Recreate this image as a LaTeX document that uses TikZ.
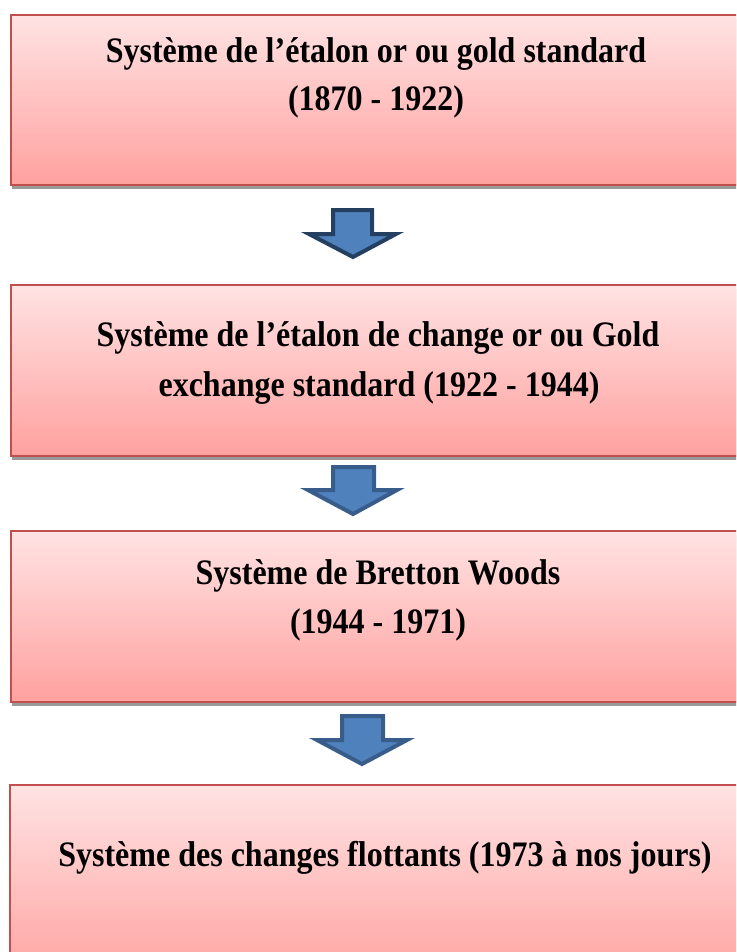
\documentclass[tikz,border=0pt]{standalone}
\usepackage{fontspec}
\setmainfont{Liberation Serif}
\usetikzlibrary{calc}
\definecolor{boxtop}{HTML}{FFE3E3}
\definecolor{boxbot}{HTML}{FFA19F}
\definecolor{boxline}{HTML}{C0504D}
\definecolor{arrfill}{HTML}{4F81BD}
\definecolor{arrlineA}{HTML}{243F60}
\definecolor{arrlineB}{HTML}{385D8A}
\definecolor{shadowgray}{HTML}{9A9A9A}
\newcommand{\tallbold}[1]{\scalebox{1}[1.12]{#1}}
\tikzset{
  boxshape/.style={draw=boxline, line width=2pt, top color=boxtop, bottom color=boxbot, rectangle, inner sep=0pt},
  boxtext/.style={font=\fontsize{32}{38}\selectfont\bfseries, inner sep=0pt, anchor=base},
  blockarrow/.style={fill=arrfill, line width=4pt, line join=miter},
}
\begin{document}
\begin{tikzpicture}[x=1pt,y=-1pt]
\useasboundingbox (0,0) rectangle (736,952);
\begin{scope}
\clip (0,0) rectangle (736,952);
% shadows
\fill[shadowgray] (12,19) rectangle (748,189);
\fill[shadowgray] (12,289) rectangle (748,460);
\fill[shadowgray] (12,535) rectangle (748,706);
% boxes
\node[boxshape, minimum width=734pt, minimum height=170pt] (b1) at (378,100) {};
\node[boxshape, minimum width=734pt, minimum height=171pt] (b2) at (378,370.5) {};
\node[boxshape, minimum width=734pt, minimum height=171pt] (b3) at (378,616.5) {};
\node[boxshape, minimum width=735pt, minimum height=200pt] (b4) at (377.5,885) {};
\end{scope}
% texts
\node[boxtext] (t1a) at (376,63) {\tallbold{Système de l’étalon or ou gold standard}};
\node[boxtext] (t1b) at (376,111) {\tallbold{(1870 - 1922)}};
\node[boxtext] (t2a) at (378,346) {\tallbold{Système de l’étalon de change or ou Gold}};
\node[boxtext] (t2b) at (379,396) {\tallbold{exchange standard (1922 - 1944)}};
\node[boxtext] (t3a) at (378,584) {\tallbold{Système de Bretton Woods}};
\node[boxtext] (t3b) at (378,633) {\tallbold{(1944 - 1971)}};
\node[boxtext] (t4) at (385,866) {\tallbold{Système des changes flottants (1973 à nos jours)}};
% arrows
\draw[blockarrow, draw=arrlineA] (333,210) -- (372,210) -- (372,234) -- (396,234) -- (353,257) -- (309,234) -- (333,234) -- cycle;
\draw[blockarrow, draw=arrlineB] (333,467) -- (374,467) -- (374,490) -- (397,490) -- (353,514) -- (308,490) -- (333,490) -- cycle;
\draw[blockarrow, draw=arrlineB] (342,716) -- (383,716) -- (383,740) -- (407,740) -- (362,764) -- (317,740) -- (342,740) -- cycle;
\end{tikzpicture}
\end{document}
